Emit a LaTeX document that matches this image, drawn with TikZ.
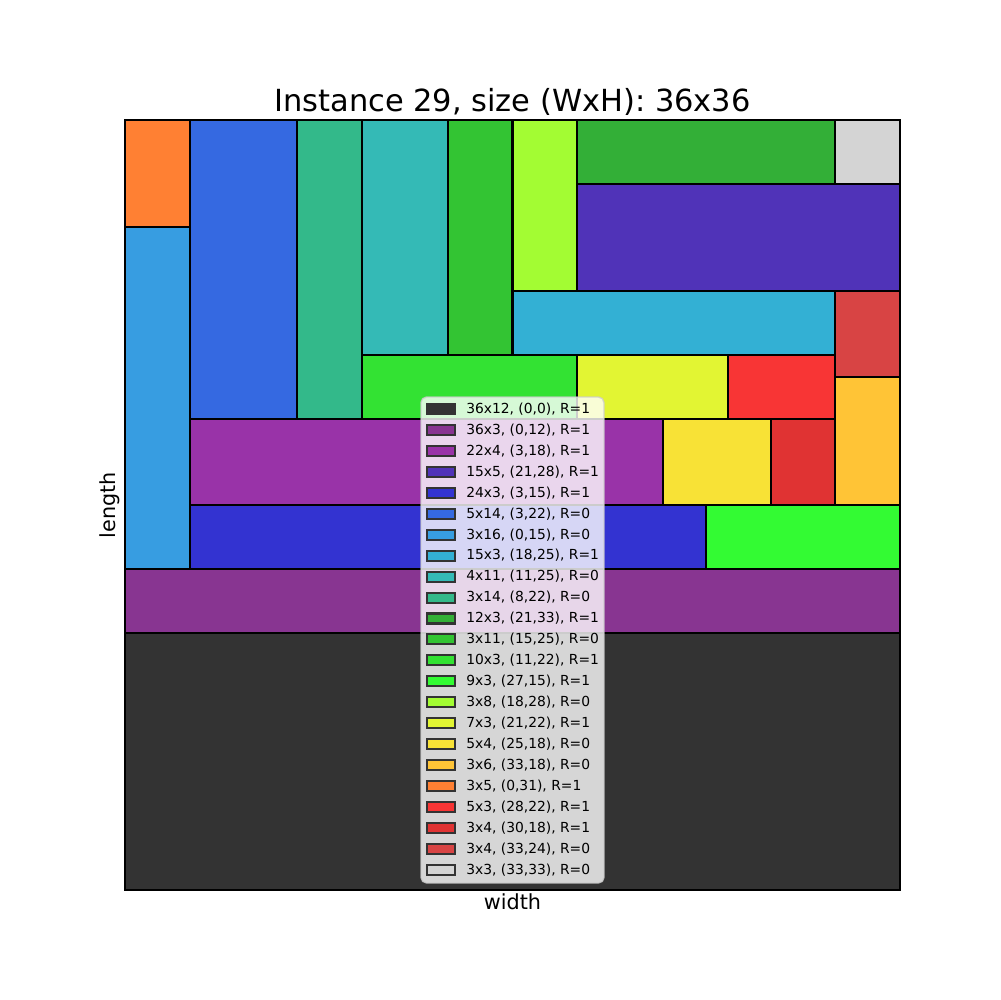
\documentclass[tikz,border=0pt]{standalone}
\usepackage{fontspec}
\setmainfont{DejaVu Sans}
\definecolor{c1}{HTML}{333333}
\definecolor{c2}{HTML}{883591}
\definecolor{c3}{HTML}{9933A8}
\definecolor{c4}{HTML}{5033B8}
\definecolor{c5}{HTML}{3333D1}
\definecolor{c6}{HTML}{3569E1}
\definecolor{c7}{HTML}{379DE1}
\definecolor{c8}{HTML}{33B0D4}
\definecolor{c9}{HTML}{34BAB6}
\definecolor{c10}{HTML}{33B98A}
\definecolor{c11}{HTML}{33AF37}
\definecolor{c12}{HTML}{33C433}
\definecolor{c13}{HTML}{33E233}
\definecolor{c14}{HTML}{33FB33}
\definecolor{c15}{HTML}{A3FC33}
\definecolor{c16}{HTML}{E2F533}
\definecolor{c17}{HTML}{F8E236}
\definecolor{c18}{HTML}{FFC436}
\definecolor{c19}{HTML}{FF8033}
\definecolor{c20}{HTML}{F83535}
\definecolor{c21}{HTML}{E03333}
\definecolor{c22}{HTML}{D84444}
\definecolor{c23}{HTML}{D4D4D4}
\definecolor{legframe}{HTML}{CCCCCC}
\newcommand\pkrect[5]{\filldraw[fill=#5, draw=black, line width=1.5pt] ({125+#1*21.52778},{890-#2*21.38889}) rectangle ({125+(#1+#3)*21.52778},{890-(#2+#4)*21.38889});}
\tikzset{
  legpatch/.style={draw=black!80, line width=1.5pt, minimum width=0.28in, minimum height=0.1in, inner sep=0pt, outer sep=0pt},
  legtext/.style={anchor=west, inner sep=0pt, font=\fontsize{10}{12}\selectfont},
}
\begin{document}
\begin{tikzpicture}[x=0.01in,y=-0.01in]
\useasboundingbox (0,0) rectangle (1000,1000);
\fill[white] (0,0) rectangle (1000,1000);
\pkrect{0}{0}{36}{12}{c1}
\pkrect{0}{12}{36}{3}{c2}
\pkrect{3}{18}{22}{4}{c3}
\pkrect{21}{28}{15}{5}{c4}
\pkrect{3}{15}{24}{3}{c5}
\pkrect{3}{22}{5}{14}{c6}
\pkrect{0}{15}{3}{16}{c7}
\pkrect{18}{25}{15}{3}{c8}
\pkrect{11}{25}{4}{11}{c9}
\pkrect{8}{22}{3}{14}{c10}
\pkrect{21}{33}{12}{3}{c11}
\pkrect{15}{25}{3}{11}{c12}
\pkrect{11}{22}{10}{3}{c13}
\pkrect{27}{15}{9}{3}{c14}
\pkrect{18}{28}{3}{8}{c15}
\pkrect{21}{22}{7}{3}{c16}
\pkrect{25}{18}{5}{4}{c17}
\pkrect{33}{18}{3}{6}{c18}
\pkrect{0}{31}{3}{5}{c19}
\pkrect{28}{22}{5}{3}{c20}
\pkrect{30}{18}{3}{4}{c21}
\pkrect{33}{24}{3}{4}{c22}
\pkrect{33}{33}{3}{3}{c23}
\draw[line width=0.8pt] (125,120) rectangle (900,890);
% title and axis labels
\node[anchor=base, inner sep=0pt, font=\fontsize{22}{26}\selectfont] (title) at (512.5,112) {Instance 29, size (WxH): 36x36};
\node[anchor=base, inner sep=0pt, font=\fontsize{15}{18}\selectfont] (xlab) at (512.5,909) {width};
\node[anchor=base, rotate=90, inner sep=0pt, font=\fontsize{15}{18}\selectfont] (ylab) at (115,505) {length};
% legend
\filldraw[fill=white, fill opacity=0.8, draw=legframe, draw opacity=0.8, line width=1pt, rounded corners=4] (421,397) rectangle (604,883);
\node[legpatch, fill=c1] (p1) at (441,409.00) {}; \node[legtext] (t1) at (466,409.00) {36x12, (0,0), R=1};
\node[legpatch, fill=c2] (p2) at (441,429.95) {}; \node[legtext] (t2) at (466,429.95) {36x3, (0,12), R=1};
\node[legpatch, fill=c3] (p3) at (441,450.90) {}; \node[legtext] (t3) at (466,450.90) {22x4, (3,18), R=1};
\node[legpatch, fill=c4] (p4) at (441,471.85) {}; \node[legtext] (t4) at (466,471.85) {15x5, (21,28), R=1};
\node[legpatch, fill=c5] (p5) at (441,492.80) {}; \node[legtext] (t5) at (466,492.80) {24x3, (3,15), R=1};
\node[legpatch, fill=c6] (p6) at (441,513.75) {}; \node[legtext] (t6) at (466,513.75) {5x14, (3,22), R=0};
\node[legpatch, fill=c7] (p7) at (441,534.70) {}; \node[legtext] (t7) at (466,534.70) {3x16, (0,15), R=0};
\node[legpatch, fill=c8] (p8) at (441,555.65) {}; \node[legtext] (t8) at (466,555.65) {15x3, (18,25), R=1};
\node[legpatch, fill=c9] (p9) at (441,576.60) {}; \node[legtext] (t9) at (466,576.60) {4x11, (11,25), R=0};
\node[legpatch, fill=c10] (p10) at (441,597.55) {}; \node[legtext] (t10) at (466,597.55) {3x14, (8,22), R=0};
\node[legpatch, fill=c11] (p11) at (441,618.50) {}; \node[legtext] (t11) at (466,618.50) {12x3, (21,33), R=1};
\node[legpatch, fill=c12] (p12) at (441,639.45) {}; \node[legtext] (t12) at (466,639.45) {3x11, (15,25), R=0};
\node[legpatch, fill=c13] (p13) at (441,660.40) {}; \node[legtext] (t13) at (466,660.40) {10x3, (11,22), R=1};
\node[legpatch, fill=c14] (p14) at (441,681.35) {}; \node[legtext] (t14) at (466,681.35) {9x3, (27,15), R=1};
\node[legpatch, fill=c15] (p15) at (441,702.30) {}; \node[legtext] (t15) at (466,702.30) {3x8, (18,28), R=0};
\node[legpatch, fill=c16] (p16) at (441,723.25) {}; \node[legtext] (t16) at (466,723.25) {7x3, (21,22), R=1};
\node[legpatch, fill=c17] (p17) at (441,744.20) {}; \node[legtext] (t17) at (466,744.20) {5x4, (25,18), R=0};
\node[legpatch, fill=c18] (p18) at (441,765.15) {}; \node[legtext] (t18) at (466,765.15) {3x6, (33,18), R=0};
\node[legpatch, fill=c19] (p19) at (441,786.10) {}; \node[legtext] (t19) at (466,786.10) {3x5, (0,31), R=1};
\node[legpatch, fill=c20] (p20) at (441,807.05) {}; \node[legtext] (t20) at (466,807.05) {5x3, (28,22), R=1};
\node[legpatch, fill=c21] (p21) at (441,828.00) {}; \node[legtext] (t21) at (466,828.00) {3x4, (30,18), R=1};
\node[legpatch, fill=c22] (p22) at (441,848.95) {}; \node[legtext] (t22) at (466,848.95) {3x4, (33,24), R=0};
\node[legpatch, fill=c23] (p23) at (441,869.90) {}; \node[legtext] (t23) at (466,869.90) {3x3, (33,33), R=0};
\end{tikzpicture}
\end{document}
